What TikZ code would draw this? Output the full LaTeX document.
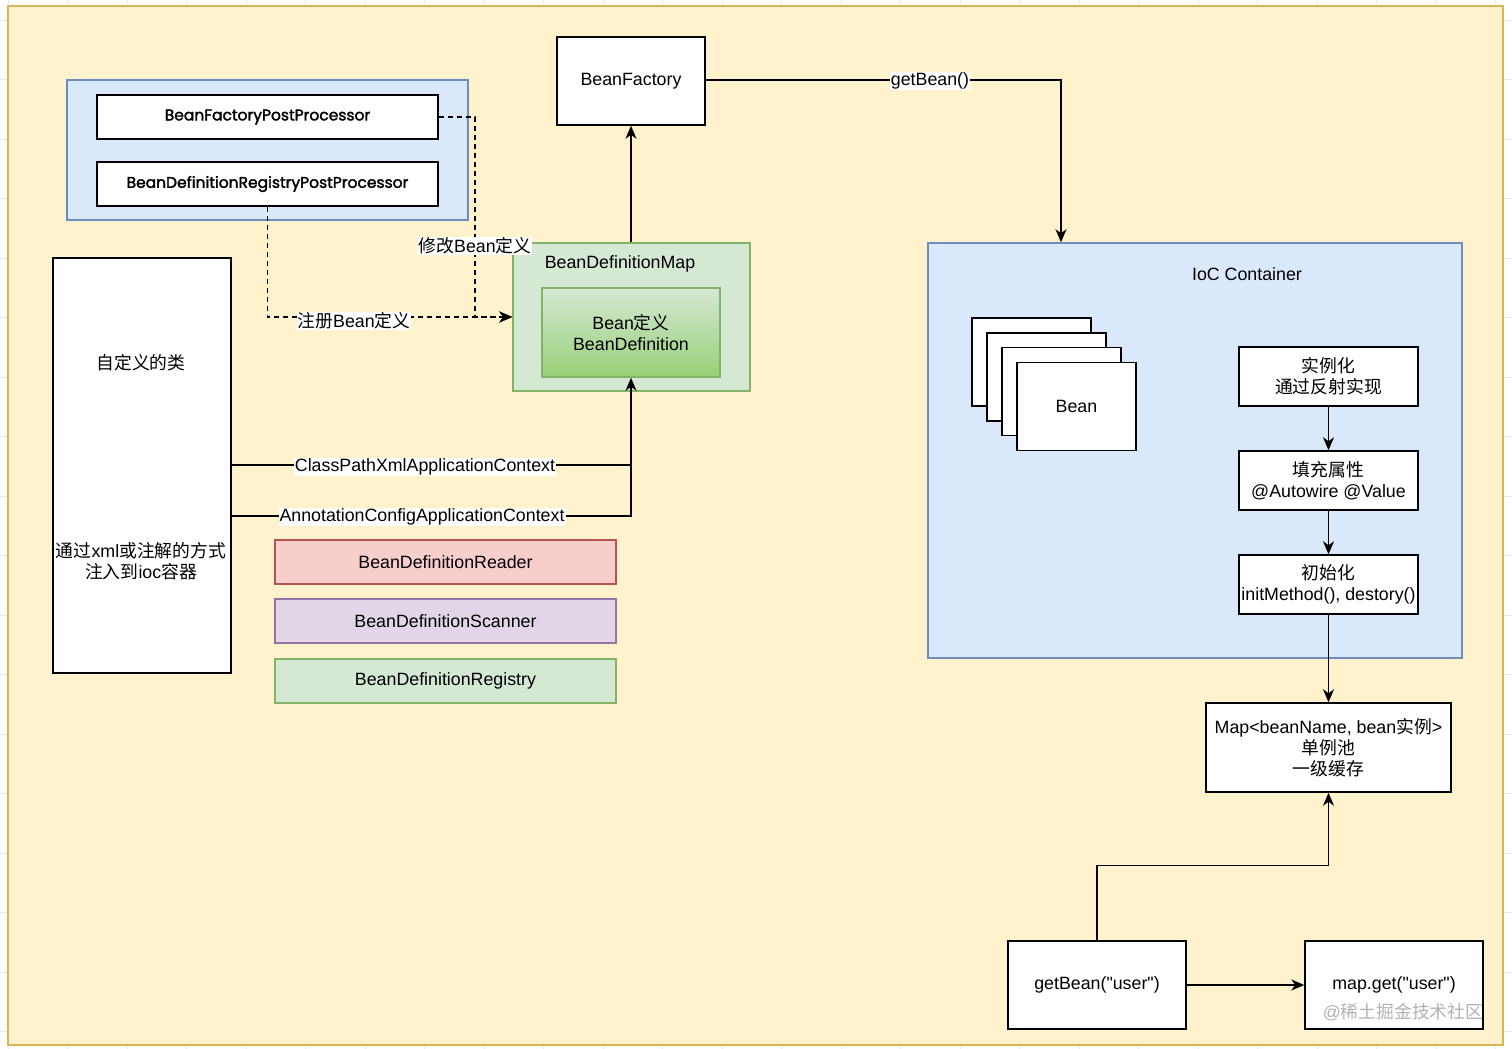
\documentclass[tikz,border=0pt]{standalone}
\usepackage{fontspec}
\setmainfont{Liberation Sans}[Ligatures=TeXOff]
\newfontfamily\cjk{Noto Sans CJK SC}
\newfontfamily\comic{Poppins}[FakeBold=2]
\usetikzlibrary{arrows.meta}
\definecolor{panelfill}{HTML}{FFF2CC}
\definecolor{paneldraw}{HTML}{D6B656}
\definecolor{bluefill}{HTML}{DAE8FC}
\definecolor{bluedraw}{HTML}{6C8EBF}
\definecolor{greenfill}{HTML}{D5E8D4}
\definecolor{greendraw}{HTML}{82B366}
\definecolor{greendeep}{HTML}{97D077}
\definecolor{redfill}{HTML}{F8CECC}
\definecolor{reddraw}{HTML}{B85450}
\definecolor{purplefill}{HTML}{E1D5E7}
\definecolor{purpledraw}{HTML}{9673A6}
\begin{document}
\begin{tikzpicture}[x=1pt,y=-1pt,
  font=\fontsize{17.8}{21}\selectfont,
  sz/.style 2 args={minimum width=#1, minimum height=#2},
  wbox/.style={draw=black, fill=white, line width=1.5pt, inner sep=0pt, align=center},
  cbox/.style={line width=1.5pt, inner sep=0pt, align=center},
  arr/.style={-{Stealth[length=13pt,width=11pt,inset=4pt]}, line width=1.5pt},
  plain/.style={line width=1.5pt},
  dashline/.style={dash pattern=on 5pt off 4pt},
  lbl/.style={fill=white, inner sep=1pt},
  txt/.style={inner sep=0pt, align=center}
]
\useasboundingbox (0,0) rectangle (1512,1049);
\fill[white] (0,0) rectangle (1512,1049);
\foreach \gx in {8,67.5,...,1512} \draw[gray!18, line width=0.8pt] (\gx,0) -- (\gx,1049);
\foreach \gy in {20,79.5,...,1049} \draw[gray!18, line width=0.8pt] (0,\gy) -- (1512,\gy);
\draw[fill=panelfill, draw=paneldraw, line width=1.5pt] (8,6) rectangle (1503,1045);

% left group
\node[cbox, sz={401}{140}, fill=bluefill, draw=bluedraw] (grp) at (267.5,150) {};
\node[wbox, sz={341}{44}] (bfpp) at (267.5,117) {\comic\fontsize{15.5}{18}\selectfont BeanFactoryPostProcessor};
\node[wbox, sz={341}{44}] (bdrpp) at (267.5,184) {\comic\fontsize{15.5}{18}\selectfont BeanDefinitionRegistryPostProcessor};

\node[wbox, sz={148}{88}] (bf) at (631,81) {BeanFactory};

\node[cbox, sz={237}{148}, fill=greenfill, draw=greendraw] (bdmap) at (631.5,317) {};
\node[txt] (bdmaplbl) at (620,264) {BeanDefinitionMap};
\node[cbox, sz={178}{89}, top color=greenfill, bottom color=greendeep, draw=greendraw] (inner) at (631,332.5) {Bean{\cjk 定义}\\BeanDefinition};

\node[wbox, sz={178}{415}] (custom) at (142,465.5) {};
\node[txt] (customt1) at (141,363) {\cjk 自定义的类};
\node[txt] (customt2) at (141,561) {{\cjk 通过}xml{\cjk 或注解的方式}\\{\cjk 注入到}ioc{\cjk 容器}};

\node[cbox, sz={341}{44}, fill=redfill, draw=reddraw] (reader) at (445.5,562) {BeanDefinitionReader};
\node[cbox, sz={341}{44}, fill=purplefill, draw=purpledraw] (scanner) at (445.5,621) {BeanDefinitionScanner};
\node[cbox, sz={341}{44}, fill=greenfill, draw=greendraw] (registry) at (445.5,681) {BeanDefinitionRegistry};

% IoC container
\node[cbox, sz={534}{415}, fill=bluefill, draw=bluedraw] (ioc) at (1195,450.5) {};
\node[txt] (ioclbl) at (1247,274) {IoC Container};
\node[wbox, sz={119}{88}] (bean1) at (1031.5,362) {};
\node[wbox, sz={119}{88}] (bean2) at (1046.5,377) {};
\node[wbox, sz={119}{88}] (bean3) at (1061.5,391.5) {};
\node[wbox, sz={119}{88}] (bean4) at (1076.5,406.5) {Bean};

\node[wbox, sz={179}{59}] (inst) at (1328.5,376.5) {{\cjk 实例化}\\{\cjk 通过反射实现}};
\node[wbox, sz={179}{59}] (fillp) at (1328.5,480.5) {{\cjk 填充属性}\\@Autowire @Value};
\node[wbox, sz={179}{59}] (init) at (1328.5,584.5) {{\cjk 初始化}\\initMethod(), destory()};

\node[wbox, sz={245}{89}] (map) at (1328.5,747.5) {Map<beanName, bean{\cjk 实例}>\\{\cjk 单例池}\\{\cjk 一级缓存}};
\node[wbox, sz={178}{88}] (getuser) at (1097,985) {getBean("user")};
\node[wbox, sz={178}{88}] (mapget) at (1394,985) {map.get("user")};

% connectors
\coordinate (d1) at (475,117);
\draw[arr, dashline] (bfpp.east) -- (d1) |- (bdmap.west);
\node[lbl] (lblmod) at (475,246) {{\cjk 修改}Bean{\cjk 定义}};
\draw[arr, dashline] (bdrpp.south) |- (bdmap.west);
\node[lbl] (lblreg) at (354,321) {{\cjk 注册}Bean{\cjk 定义}};

\coordinate (j1) at (631,465);
\coordinate (j2) at (631,516);
\draw[arr] (custom.east |- j1) -- (j1) -- (inner.south);
\draw[plain] (custom.east |- j2) -- (j2) -- (j1);
\node[lbl] (lblcp) at (425,467) {ClassPathXmlApplicationContext};
\node[lbl] (lblac) at (422,517) {AnnotationConfigApplicationContext};

\draw[arr] (bf.south |- bdmap.north) -- (bf.south);

\coordinate (g1) at (1061,80);
\draw[arr] (bf.east |- g1) -- (g1) -- (g1 |- ioc.north);
\node[lbl] (lblgb) at (930,81) {getBean()};

\draw[arr] (inst) -- (fillp);
\draw[arr] (fillp) -- (init);
\draw[arr] (init) -- (map);
\draw[arr] (getuser) -- (mapget);
\draw[arr] (getuser.north) -- ++(0,-75) -| (map.south);

\node[txt, text=black!30] (wm) at (1403,1012) {@{\cjk 稀土掘金技术社区}};
\end{tikzpicture}
\end{document}
